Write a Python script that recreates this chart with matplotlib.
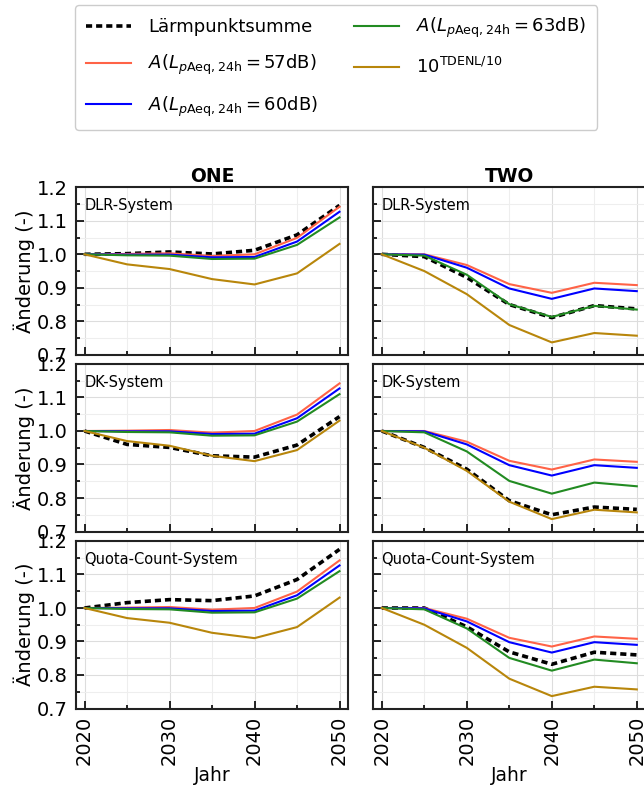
import numpy as np
import matplotlib
matplotlib.use("Agg")
import matplotlib.pyplot as plt
from matplotlib.ticker import MultipleLocator

years = [2020, 2025, 2030, 2035, 2040, 2045, 2050]

# weighting curves (same in every row of a column)
one_a57 = [1.0, 1.001, 1.003, 0.995, 1.0, 1.049, 1.142]
one_a60 = [1.0, 0.999, 0.999, 0.991, 0.992, 1.038, 1.127]
one_a63 = [1.0, 0.997, 0.996, 0.986, 0.987, 1.028, 1.110]
one_tdenl = [1.0, 0.970, 0.956, 0.926, 0.910, 0.943, 1.031]

two_a57 = [1.0, 1.0, 0.968, 0.911, 0.885, 0.915, 0.908]
two_a60 = [1.0, 0.999, 0.960, 0.898, 0.867, 0.898, 0.890]
two_a63 = [1.0, 0.996, 0.939, 0.851, 0.813, 0.846, 0.835]
two_tdenl = [1.0, 0.950, 0.881, 0.789, 0.737, 0.765, 0.757]

# Laermpunktsumme per system
systems = ["DLR-System", "DK-System", "Quota-Count-System"]
one_lps = [
    [1.0, 1.002, 1.007, 1.001, 1.012, 1.058, 1.146],
    [1.0, 0.960, 0.951, 0.926, 0.922, 0.958, 1.043],
    [1.0, 1.016, 1.025, 1.022, 1.036, 1.085, 1.175],
]
two_lps = [
    [1.0, 0.993, 0.931, 0.850, 0.811, 0.847, 0.837],
    [1.0, 0.951, 0.886, 0.792, 0.750, 0.773, 0.766],
    [1.0, 1.0, 0.944, 0.869, 0.832, 0.868, 0.860],
]

labels = [
    "Lärmpunktsumme",
    r"$A(L_{p\mathrm{Aeq,24h}}=57\mathrm{dB})$",
    r"$A(L_{p\mathrm{Aeq,24h}}=60\mathrm{dB})$",
    r"$A(L_{p\mathrm{Aeq,24h}}=63\mathrm{dB})$",
    r"$10^{\mathrm{TDENL/10}}$",
]
colors = ["tomato", "blue", "forestgreen", "darkgoldenrod"]

W, H = 644, 789
fig = plt.figure(figsize=(W / 100, H / 100), dpi=100)

col_x = [76 / W, 373.3 / W]
ax_w = 272 / W
row_top = [187.3, 364.0, 541.0]
ax_h = 167.5 / H

columns = [
    ("ONE", one_lps, [one_a57, one_a60, one_a63, one_tdenl]),
    ("TWO", two_lps, [two_a57, two_a60, two_a63, two_tdenl]),
]

handles = None
for c, (title, lps, curves) in enumerate(columns):
    for r in range(3):
        bottom = 1 - (row_top[r] + 167.5) / H
        ax = fig.add_axes([col_x[c], bottom, ax_w, ax_h])
        h0, = ax.plot(years, lps[r], color="black", lw=2.6, ls=(0, (1.7, 1.1)))
        hs = [h0]
        for vals, col in zip(curves, colors):
            h, = ax.plot(years, vals, color=col, lw=1.5)
            hs.append(h)
        handles = hs
        ax.set_xlim(2019, 2051)
        ax.set_ylim(0.7, 1.2)
        ax.xaxis.set_major_locator(MultipleLocator(10))
        ax.xaxis.set_minor_locator(MultipleLocator(5))
        ax.yaxis.set_major_locator(MultipleLocator(0.1))
        ax.yaxis.set_minor_locator(MultipleLocator(0.05))
        ax.grid(which="major", color="#dddddd", lw=0.8)
        ax.grid(which="minor", color="#eeeeee", lw=0.8)
        ax.set_axisbelow(True)
        ax.tick_params(which="both", direction="in", width=1.2, labelsize=14)
        ax.tick_params(axis="y", pad=6)
        ax.tick_params(axis="x", pad=5)
        ax.tick_params(which="major", length=6)
        ax.tick_params(which="minor", length=3)
        ax.tick_params(axis="x", labelrotation=90)
        for s in ax.spines.values():
            s.set_linewidth(1.5)
            s.set_color("#222222")
        ax.text(0.03, 0.935, systems[r], transform=ax.transAxes,
                va="top", ha="left", fontsize=10.5)
        if r == 0:
            ax.set_title(title, fontsize=13.5, fontweight="bold", pad=4)
        if r < 2:
            ax.tick_params(axis="x", labelbottom=False)
        else:
            ax.set_xlabel("Jahr", fontsize=13.5, labelpad=1)
        if c == 1:
            ax.tick_params(axis="y", labelleft=False)
        else:
            ax.set_ylabel("Änderung (-)", fontsize=14, labelpad=1)
            ax.set_yticklabels([f"{v:.1f}" for v in ax.get_yticks()])

fig.legend(handles, labels, loc="upper left", ncol=2,
           bbox_to_anchor=(75 / W, 1 - 5 / H), borderaxespad=0, fontsize=13,
           handlelength=2.5, handletextpad=0.95, columnspacing=2.0,
           labelspacing=0.95, borderpad=0.6, fancybox=True,
           edgecolor="#cccccc", framealpha=1.0)

fig.savefig("out.png", dpi=100)
